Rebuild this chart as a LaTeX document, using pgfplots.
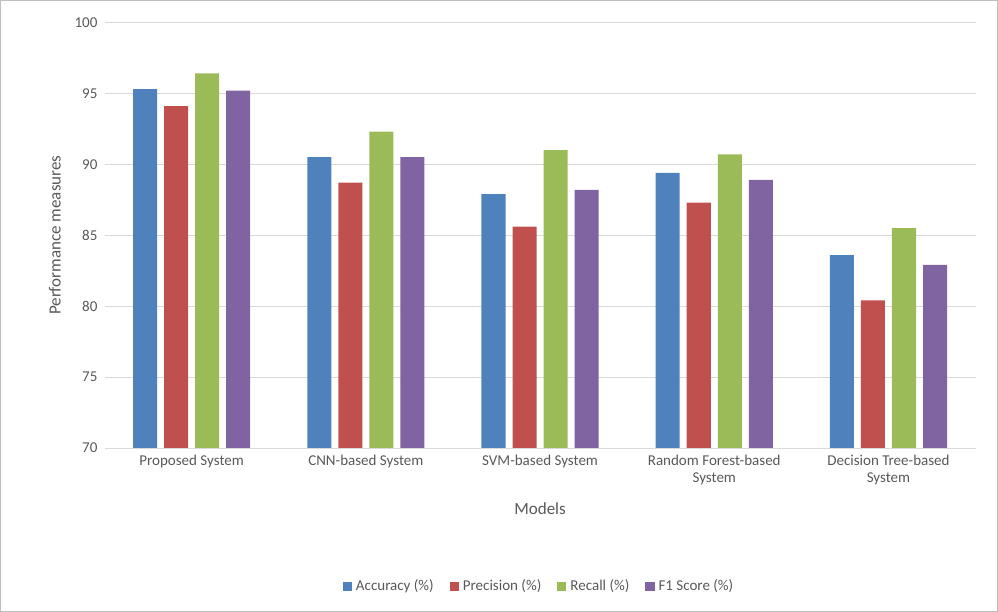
\documentclass[border=0pt]{standalone}
\usepackage{pgfplots}
\pgfplotsset{compat=1.18}
\usepackage{fontspec}
\setmainfont{Carlito}
\definecolor{cA}{HTML}{4F81BD}
\definecolor{cP}{HTML}{C0504D}
\definecolor{cR}{HTML}{9BBB59}
\definecolor{cF}{HTML}{8064A2}
\definecolor{txt}{HTML}{595959}
\begin{document}
\begin{tikzpicture}
\begin{axis}[name=ax, scale only axis, width=435pt, height=212.5pt,
  ybar=3.5pt, bar width=12pt,
  xmin=-0.5, xmax=4.5, ymin=70, ymax=100, ytick={70,75,...,100},
  xtick=data,
  xticklabels={Proposed System, CNN-based System, SVM-based System, {Random Forest-based\\System}, {Decision Tree-based\\System}},
  xticklabel style={align=center, font=\fontsize{7.5}{8.5}\selectfont, text=txt},
  yticklabel style={font=\fontsize{7.5}{8.5}\selectfont, text=txt},
  /pgf/number format/assume math mode=true,
  major tick length=0pt,
  axis line style={draw=none},
  axis x line*=bottom,
  ymajorgrids, grid style={draw=gray!30},
  xlabel={Models}, ylabel={Performance measures},
  label style={font=\fontsize{8.5}{10}\selectfont, text=txt},
  xlabel style={yshift=-2pt},
  legend style={at={(0.5,-0.29)}, anchor=north, draw=none, legend columns=-1, font=\fontsize{7.5}{8.5}\selectfont, text=txt, /tikz/every even column/.append style={column sep=6pt}},
  legend image code/.code={\draw[#1, draw=none] (0cm,-0.08cm) rectangle (0.16cm,0.08cm);},
  every axis plot/.append style={draw=none}
]
\addplot[fill=cA] coordinates {(0,95.3) (1,90.5) (2,87.9) (3,89.4) (4,83.6)};
\addplot[fill=cP] coordinates {(0,94.1) (1,88.7) (2,85.6) (3,87.3) (4,80.4)};
\addplot[fill=cR] coordinates {(0,96.4) (1,92.3) (2,91.0) (3,90.7) (4,85.5)};
\addplot[fill=cF] coordinates {(0,95.2) (1,90.5) (2,88.2) (3,88.9) (4,82.9)};
\legend{Accuracy (\%), Precision (\%), Recall (\%), F1 Score (\%)}
\draw[gray!45] (rel axis cs:0,0) -- (rel axis cs:1,0);
\end{axis}
\draw[gray!50] ([xshift=-52pt,yshift=-81.5pt]ax.south west) rectangle ([xshift=11pt,yshift=11pt]ax.north east);
\end{tikzpicture}
\end{document}
